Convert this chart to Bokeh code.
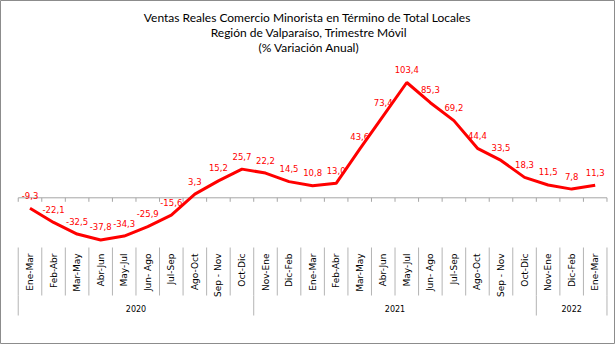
import math
from bokeh.plotting import figure
from bokeh.models import ColumnDataSource, Label, Range1d
from bokeh.embed import file_html
from bokeh.resources import INLINE

# ---- data ----
periods = ["Ene-Mar", "Feb-Abr", "Mar-May", "Abr-Jun", "May-Jul", "Jun- Ago",
           "Jul-Sep", "Ago-Oct", "Sep - Nov", "Oct-Dic",
           "Nov-Ene", "Dic-Feb", "Ene-Mar", "Feb-Abr", "Mar-May", "Abr-Jun",
           "May-Jul", "Jun- Ago", "Jul-Sep", "Ago-Oct", "Sep - Nov", "Oct-Dic",
           "Nov-Ene", "Dic-Feb", "Ene-Mar"]
values = [-9.3, -22.1, -32.5, -37.8, -34.3, -25.9, -15.6, 3.3, 15.2, 25.7,
          22.2, 14.5, 10.8, 13.0, 43.6, 73.4, 103.4, 85.3, 69.2, 44.4, 33.5, 18.3,
          11.5, 7.8, 11.3]
years = ["2020", "2021", "2022"]
year_counts = [10, 12, 3]
title_lines = ["Ventas Reales Comercio Minorista  en Término de Total Locales",
               "Región de Valparaíso, Trimestre Móvil",
               "(% Variación Anual)"]

W, H = 615, 344
# layout mapping (pixels)
X0, DX = 29.5, 23.55          # pixel x of first category, spacing
Y0, SY = 197.3, 1.115         # pixel y (from top) of zero, px per unit

xs = list(range(len(values)))
x_lo = -X0 / DX
x_hi = (W - X0) / DX
y_hi = Y0 / SY
y_lo = (Y0 - H) / SY

def dy(ptop):
    """data y for a pixel row measured from top"""
    return (Y0 - ptop) / SY

p = figure(width=W, height=H, output_backend="svg", toolbar_location=None,
           x_range=Range1d(x_lo, x_hi), y_range=Range1d(y_lo, y_hi),
           min_border=0, min_border_left=0, min_border_right=0,
           min_border_top=0, min_border_bottom=0)
p.xaxis.visible = False
p.yaxis.visible = False
p.xgrid.visible = False
p.ygrid.visible = False
p.background_fill_color = "white"
p.border_fill_color = "white"
p.outline_line_color = "#8c8c8c"
p.outline_line_width = 1

gray = "#a6a6a6"

# zero (category) axis line with tick marks at category boundaries
n = len(values)
p.segment(x0=[-0.5], y0=[0], x1=[n - 0.5], y1=[0], line_color=gray, line_width=1)
bounds = [i - 0.5 for i in range(n + 1)]
p.segment(x0=bounds, y0=[0] * len(bounds), x1=bounds, y1=[dy(Y0 + 4)] * len(bounds),
          line_color=gray, line_width=1)

# separators under labels
p.segment(x0=bounds, y0=[dy(247)] * len(bounds), x1=bounds, y1=[dy(295)] * len(bounds),
          line_color="#b4b4b4", line_width=1)
# group separators
gb = [-0.5]
acc = -0.5
for c in year_counts:
    acc += c
    gb.append(acc)
p.segment(x0=gb, y0=[dy(295)] * len(gb), x1=gb, y1=[dy(315)] * len(gb),
          line_color="#b4b4b4", line_width=1)

# data line
src = ColumnDataSource(dict(x=xs, y=values,
                            lab=[f"{v:.1f}".replace(".", ",") for v in values]))
p.line("x", "y", source=src, line_color="#ff0000", line_width=3)
p.text("x", "y", text="lab", source=src, text_color="#ff0000",
       text_font_size="8.5px", text_font={"value": "DejaVu Sans"},
       text_align="center", text_baseline="middle", y_offset=-13)

# category labels (rotated)
for i, lab in enumerate(periods):
    p.add_layout(Label(x=i, y=H - 253, x_units="data", y_units="screen",
                       text=lab, angle=math.pi / 2, text_align="right",
                       text_baseline="middle", text_font="DejaVu Sans",
                       text_font_size="9px", text_color="#000000"))

# year labels
start = 0
for yr, c in zip(years, year_counts):
    center = start + (c - 1) / 2
    p.add_layout(Label(x=center, y=H - 308, x_units="data", y_units="screen",
                       text=yr, text_align="center", text_baseline="middle",
                       text_font="DejaVu Sans", text_font_size="8px",
                       text_color="#000000"))
    start += c

# title
for k, t in enumerate(title_lines):
    p.add_layout(Label(x=W / 2 + 1, y=H - (16.5 + 15 * k), x_units="screen",
                       y_units="screen", text=t, text_align="center",
                       text_baseline="middle", text_font="Lato",
                       text_font_size="12px", text_font_style="normal",
                       text_color="#000000"))

open("out.html", "w").write(file_html(p, INLINE))
